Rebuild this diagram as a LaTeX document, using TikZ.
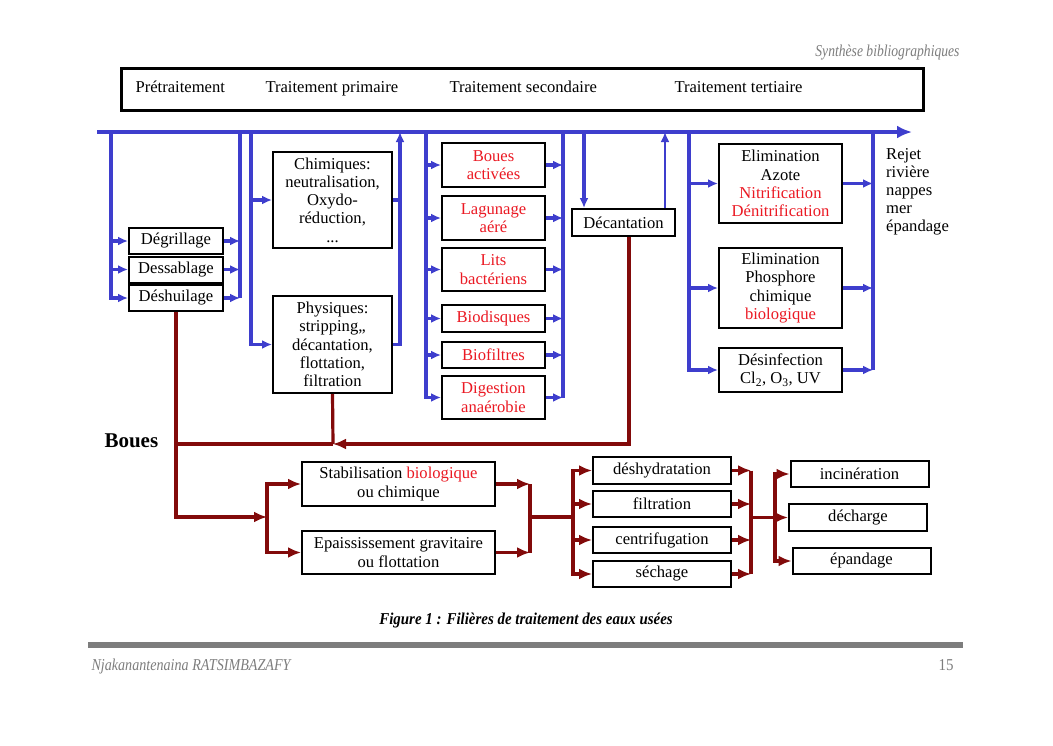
\documentclass[tikz,border=0pt]{standalone}
\usepackage{fontspec}
\setmainfont{Liberation Serif}
\usepackage{xcolor}
\usepackage{graphicx}
\usetikzlibrary{arrows.meta, positioning}

\definecolor{bleuflux}{RGB}{62,62,205}
\definecolor{rougeboue}{RGB}{130,10,10}
\definecolor{rougetexte}{RGB}{235,25,35}
\definecolor{grispage}{RGB}{125,125,125}

\newcommand{\rouge}[1]{\textcolor{rougetexte}{#1}}

\begin{document}
\begin{tikzpicture}[x=1pt, y=-1pt,
        font=\fontsize{16.6}{18.2}\selectfont,
        boite/.style={draw, line width=2pt, inner sep=0pt, align=center, fill=white},
        prebox/.style={boite, minimum width=94pt, minimum height=26pt},
        secbox/.style={boite, minimum width=103pt, text=rougetexte},
        terbox/.style={boite, minimum width=123pt},
        deshbox/.style={boite, minimum width=138pt, minimum height=26.5pt},
        bus/.style={draw=bleuflux, line width=3.2pt},
        flux/.style={bus, -{Latex[length=10pt,width=9pt]}},
        boue/.style={draw=rougeboue, line width=3.2pt},
        fboue/.style={boue, -{Latex[length=13pt,width=11pt]}}]
        \useasboundingbox (0,0) rectangle (1053,745);
        \fill[white] (0,0) rectangle (1053,745);
        % Page
        \node[anchor=base east, text=grispage] (rubrique) at (963,56) {\scalebox{0.82}[1]{\itshape Synthèse bibliographiques}};
        \fill[grispage] (88,642) rectangle (963,648);
        \node[anchor=base west, text=grispage] (auteur) at (88,670) {\scalebox{0.85}[1]{\itshape Njakanantenaina RATSIMBAZAFY}};
        \node[anchor=base east, text=grispage] (page) at (957,670) {\scalebox{0.9}[1]{15}};
        \node[anchor=base] (legende) at (526,624) {\scalebox{0.9}[1]{\bfseries\itshape Figure 1 : Filières de traitement des eaux usées}};
        % Etapes
        \node[draw, line width=3pt, minimum width=802pt, minimum height=42pt] (entete) at (522,89) {};
        \node[anchor=base west] (etape1) at (132,92) {Prétraitement};
        \node[anchor=base west] (etape2) at (262,92) {Traitement primaire};
        \node[anchor=base west] (etape3) at (446,92) {Traitement secondaire};
        \node[anchor=base west] (etape4) at (671,92) {Traitement tertiaire};
        % Ligne principale
        \coordinate (entree) at (97,132);
        \coordinate (sortie) at (912,132);
        \draw[bus, -{Latex[length=15pt,width=13pt]}] (entree) -- (sortie);
        \node[anchor=north west, align=left, inner sep=0pt] (rejet) at (886,148) {Rejet\\rivière\\nappes\\mer\\épandage};
        % Pretraitement
        \node[prebox] (degr) at (176,241) {Dégrillage};
        \node[prebox] (dessab) at (176,269.5) {Dessablage};
        \node[prebox] (deshu) at (176,298) {Déshuilage};
        \coordinate (preG) at (111,132);
        \coordinate (preD) at (240,132);
        \foreach \nom in {degr,dessab,deshu}{
            \draw[flux] (preG) |- (\nom.west);
            \draw[flux] (\nom.east) -- (\nom.east -| preD);
        }
        \draw[bus] (preD) -- (preD |- deshu.east);
        % Traitement primaire
        \node[boite, minimum width=119pt, minimum height=96pt] (chim) at (332.5,200) {Chimiques:\\neutralisation,\\Oxydo-\\réduction,\\...};
        \node[boite, minimum width=119pt, minimum height=97pt] (phys) at (332.5,344.5) {Physiques:\\stripping,,\\décantation,\\flottation,\\filtration};
        \coordinate (priG) at (251,132);
        \coordinate (priD) at (400,132);
        \draw[flux] (priG) |- (chim.west);
        \draw[flux] (priG) |- (phys.west);
        \draw[bus] (chim.east) -- (chim.east -| priD);
        \draw[flux] (phys.east) -| (priD);
        % Traitement secondaire
        \node[secbox, minimum height=44pt] (activ) at (493.5,165) {Boues\\activées};
        \node[secbox, minimum height=44pt] (lagun) at (493.5,218) {Lagunage\\aéré};
        \node[secbox, minimum height=43pt] (lits) at (493.5,269.5) {Lits\\bactériens};
        \node[secbox, minimum height=27pt] (biodis) at (493.5,318.5) {Biodisques};
        \node[secbox, minimum height=26pt] (biofil) at (493.5,355) {Biofiltres};
        \node[secbox, minimum height=43pt] (digest) at (493.5,397.5) {Digestion\\anaérobie};
        \coordinate (secG) at (426,132);
        \coordinate (secD) at (563,132);
        \foreach \nom in {activ,lagun,lits,biodis,biofil,digest}{
            \draw[flux] (secG) |- (\nom.west);
            \draw[flux] (\nom.east) -- (\nom.east -| secD);
        }
        \draw[bus] (secD) -- (secD |- digest.east);
        % Decantation
        \node[boite, minimum width=103pt, minimum height=27pt] (decant) at (623.5,222.5) {Décantation};
        \coordinate (decE) at (584,132);
        \coordinate (decS) at (665,132);
        \draw[flux] (decE) -- (decE |- decant.north);
        \draw[flux, line width=2.2pt] (decS |- decant.north) -- (decS);
        % Traitement tertiaire
        \node[terbox, minimum height=79pt] (azote) at (780.5,183.5) {Elimination\\Azote\\\rouge{Nitrification}\\\rouge{Dénitrification}};
        \node[terbox, minimum height=80pt] (phosph) at (780.5,288) {Elimination\\Phosphore\\chimique\\\rouge{biologique}};
        \node[terbox, minimum height=44pt] (desinf) at (780.5,370) {Désinfection\\Cl\textsubscript{2}, O\textsubscript{3}, UV};
        \coordinate (terG) at (689,132);
        \coordinate (terD) at (873,132);
        \foreach \nom in {azote,phosph,desinf}{
            \draw[flux] (terG) |- (\nom.west);
            \draw[flux] (\nom.east) -- (\nom.east -| terD);
        }
        \draw[bus] (terD) -- (terD |- desinf.east);
        % Boues
        \node[anchor=west, font=\fontsize{21}{24}\selectfont\bfseries] (boues) at (101,441) {Boues};
        \coordinate (jonc) at (333,444);
        \draw[fboue] ([xshift=5.5pt]decant.south) |- (jonc);
        \draw[boue] (phys.south) -- (jonc);
        \draw[boue] (jonc) -- (jonc -| deshu.south);
        \node[boite, minimum width=193pt, minimum height=44pt] (stabil) at (398.5,484) {Stabilisation \rouge{biologique}\\ou chimique};
        \node[boite, minimum width=193pt, minimum height=43pt] (epaiss) at (398.5,552.5) {Epaississement gravitaire\\ou flottation};
        \coordinate (sep1) at (267,517);
        \draw[fboue] (deshu.south) |- (sep1);
        \draw[fboue] (sep1) |- (stabil.west);
        \draw[fboue] (sep1) |- (epaiss.west);
        \coordinate (reun1) at (530,517);
        \draw[fboue] (stabil.east) -- (stabil.east -| reun1);
        \draw[fboue] (epaiss.east) -- (epaiss.east -| reun1);
        \draw[boue] (stabil.east -| reun1) -- (epaiss.east -| reun1);
        % Deshydratation
        \node[deshbox] (deshyd) at (662,470.5) {déshydratation};
        \node[deshbox] (filtra) at (662,504) {filtration};
        \node[deshbox] (centri) at (662,540) {centrifugation};
        \node[deshbox] (sechag) at (662,574) {séchage};
        \coordinate (sep2) at (573,517);
        \coordinate (reun2) at (751,517);
        \draw[boue] (reun1) -- (sep2);
        \foreach \nom in {deshyd,filtra,centri,sechag}{
            \draw[fboue] (sep2) |- (\nom.west);
            \draw[fboue] (\nom.east) -- (\nom.east -| reun2);
        }
        \draw[boue] (reun2 |- deshyd.east) -- (reun2 |- sechag.east);
        % Destination
        \node[deshbox] (incin) at (859.5,474) {incinération};
        \node[deshbox] (decharge) at (858,517.5) {décharge};
        \node[deshbox] (epand) at (861.5,561) {épandage};
        \coordinate (sep3) at (775,517);
        \draw[fboue] (reun2 |- decharge.west) -- (decharge.west);
        \draw[fboue] (sep3) |- (incin.west);
        \draw[fboue] (sep3) |- (epand.west);
    \end{tikzpicture}
\end{document}
